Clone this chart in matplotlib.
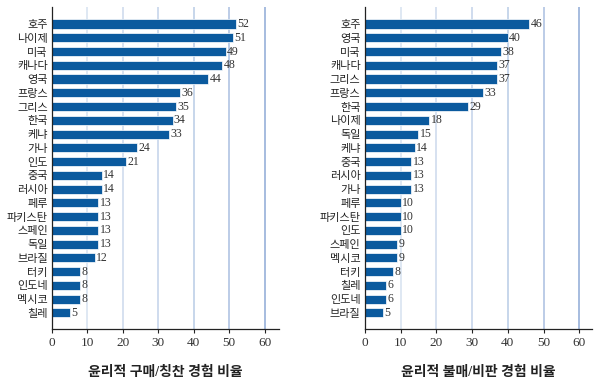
import matplotlib
matplotlib.use("Agg")
import matplotlib.pyplot as plt
import numpy as np

plt.rcParams['font.family'] = ['Liberation Serif', 'Noto Sans CJK KR']

left_countries = ["호주", "나이제", "미국", "캐나다", "영국", "프랑스", "그리스", "한국", "케냐", "가나",
                  "인도", "중국", "러시아", "페루", "파키스탄", "스페인", "독일", "브라질", "터키", "인도네",
                  "멕시코", "칠레"]
left_values = [52, 51, 49, 48, 44, 36, 35, 34, 33, 24, 21, 14, 14, 13, 13, 13, 13, 12, 8, 8, 8, 5]
left_title = "윤리적 구매/칭찬 경험 비율"

right_countries = ["호주", "영국", "미국", "캐나다", "그리스", "프랑스", "한국", "나이제", "독일", "케냐",
                   "중국", "러시아", "가나", "페루", "파키스탄", "인도", "스페인", "멕시코", "터키", "칠레",
                   "인도네", "브라질"]
right_values = [46, 40, 38, 37, 37, 33, 29, 18, 15, 14, 13, 13, 13, 10, 10, 10, 9, 9, 8, 6, 6, 5]
right_title = "윤리적 불매/비판 경험 비율"

xticks = [0, 10, 20, 30, 40, 50, 60]

fig = plt.figure(figsize=(6.0, 3.88), dpi=100)

bar_color = "#0b5a9e"
grid_colors = ["#d6e2f0", "#cbd9ec", "#c2d2e9", "#b8cbe6", "#a9bfe0", "#8ea9d6"]


def panel(ax, countries, values, title, xmax):
    n = len(countries)
    y = np.arange(n)
    for xv, c in zip(xticks[1:], grid_colors):
        ax.axvline(xv, color=c, lw=1.1, zorder=0)
    ax.barh(y, values, height=0.66, color=bar_color, edgecolor="white", linewidth=0.5, zorder=2)
    for yi, v in zip(y, values):
        ax.text(v + 0.4, yi, str(v), va="center", ha="left", fontsize=8.5, color="#333333", zorder=3)
    ax.set_yticks(y)
    ax.set_yticklabels(countries, fontsize=8, color="#222222")
    ax.set_ylim(n - 1 + 1.18, -1.24)
    ax.set_xlim(0, xmax)
    ax.set_xticks(xticks)
    ax.set_xticklabels([str(t) for t in xticks], fontsize=9.5, color="#333333")
    ax.tick_params(axis="y", length=0, pad=3)
    ax.tick_params(axis="x", length=3, width=0.8, color="#222222", pad=3)
    for s in ["top", "right"]:
        ax.spines[s].set_visible(False)
    for s in ["left", "bottom"]:
        ax.spines[s].set_color("#222222")
        ax.spines[s].set_linewidth(0.9)
    ax.set_xlabel(title, fontsize=10, fontweight="bold", labelpad=12, color="#222222")


ax1 = fig.add_axes([0.0867, 0.152, 0.378, 0.830])
panel(ax1, left_countries, left_values, left_title, 64)

ax2 = fig.add_axes([0.608, 0.152, 0.379, 0.830])
panel(ax2, right_countries, right_values, right_title, 63.6)

fig.savefig("out.png", dpi=100)
